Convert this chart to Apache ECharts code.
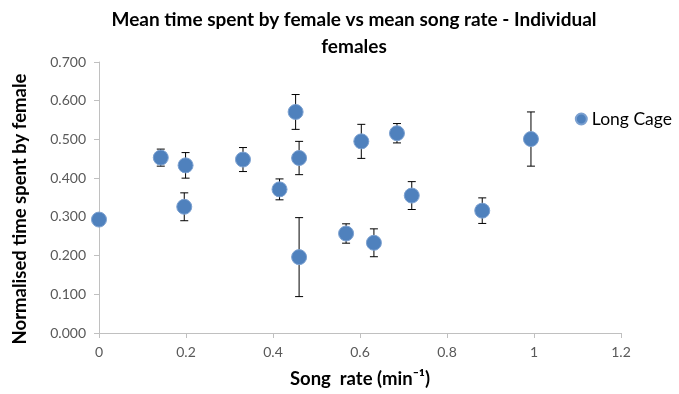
<!DOCTYPE html>
<html>
<head>
<meta charset="utf-8">
<script src="https://cdn.jsdelivr.net/npm/echarts@6/dist/echarts.min.js"></script>
<style>html,body{margin:0;padding:0;background:#fff}#c{width:679px;height:394px}</style>
</head>
<body>
<div id="c"></div>
<script>
var songRate = [0, 0.142, 0.199, 0.196, 0.331, 0.415, 0.452, 0.460, 0.460, 0.568, 0.603, 0.632, 0.685, 0.719, 0.881, 0.993];
var timeSpent = [0.293, 0.453, 0.433, 0.326, 0.448, 0.371, 0.571, 0.452, 0.196, 0.257, 0.495, 0.233, 0.516, 0.355, 0.316, 0.501];
var errors = [0, 0.022, 0.033, 0.036, 0.031, 0.027, 0.045, 0.043, 0.102, 0.025, 0.044, 0.036, 0.025, 0.036, 0.033, 0.070];
var seriesName = 'Long Cage';

var points = songRate.map(function (x, i) { return [x, timeSpent[i]]; });
var bars = songRate.map(function (x, i) { return [x, timeSpent[i] - errors[i], timeSpent[i] + errors[i]]; });

var font = 'Lato, "Open Sans", sans-serif';
var chart = echarts.init(document.getElementById('c'));
chart.setOption({
  animation: false,
  title: {
    text: 'Mean time spent by female vs mean song rate - Individual\nfemales',
    left: 349, top: 1, textAlign: 'center',
    textStyle: { fontFamily: font, fontSize: 19, fontWeight: 'bold', color: '#000', lineHeight: 27 }
  },
  legend: {
    right: 2, top: 105, orient: 'vertical',
    itemWidth: 11, itemHeight: 11, itemGap: 5,
    data: [{ name: seriesName, icon: 'circle' }],
    textStyle: { fontFamily: font, fontSize: 17.5, color: '#000' }
  },
  graphic: [{
    type: 'text', x: 20, y: 209, rotation: Math.PI / 2,
    style: { text: 'Normalised time spent by female', fontFamily: font, fontSize: 18.5, fontWeight: 'bold',
      fill: '#000', textAlign: 'center', textVerticalAlign: 'middle' }
  }],
  grid: { left: 99, right: 58, top: 62, bottom: 59 },
  xAxis: {
    type: 'value', min: 0, max: 1.2, interval: 0.2,
    name: 'Song  rate (min\u207B\u00B9)', nameLocation: 'middle', nameGap: 37,
    nameTextStyle: { fontFamily: font, fontSize: 18.5, fontWeight: 'bold', color: '#000' },
    axisLine: { lineStyle: { color: '#c0c0c0', width: 1 } },
    axisTick: { show: true, length: 5, lineStyle: { color: '#c0c0c0' } },
    splitLine: { show: false },
    axisLabel: { fontFamily: font, fontSize: 14, color: '#595959', margin: 12,
      formatter: function (v) { return String(Math.round(v * 10) / 10); } }
  },
  yAxis: {
    type: 'value', min: 0, max: 0.7, interval: 0.1,
    axisLine: { show: true, lineStyle: { color: '#c0c0c0', width: 1 } },
    axisTick: { show: true, length: 5, lineStyle: { color: '#c0c0c0' } },
    splitLine: { show: false },
    axisLabel: { fontFamily: font, fontSize: 14, color: '#595959', margin: 13,
      formatter: function (v) { return v.toFixed(3); } }
  },
  series: [
    {
      type: 'custom', name: 'err', silent: true, z: 1,
      data: bars,
      renderItem: function (params, api) {
        var x = api.value(0);
        var lo = api.coord([x, api.value(1)]);
        var hi = api.coord([x, api.value(2)]);
        var cap = 4;
        var st = { stroke: '#000', lineWidth: 1 };
        return {
          type: 'group',
          children: [
            { type: 'line', shape: { x1: lo[0], y1: lo[1], x2: hi[0], y2: hi[1] }, style: st },
            { type: 'line', shape: { x1: lo[0] - cap, y1: lo[1], x2: lo[0] + cap, y2: lo[1] }, style: st },
            { type: 'line', shape: { x1: hi[0] - cap, y1: hi[1], x2: hi[0] + cap, y2: hi[1] }, style: st }
          ]
        };
      }
    },
    {
      type: 'scatter', name: seriesName, z: 2,
      symbol: 'circle', symbolSize: 15,
      itemStyle: { color: '#4f81bd', borderColor: '#7ba0d0', borderWidth: 1, opacity: 1 },
      data: points
    }
  ]
});
</script>
</body>
</html>
